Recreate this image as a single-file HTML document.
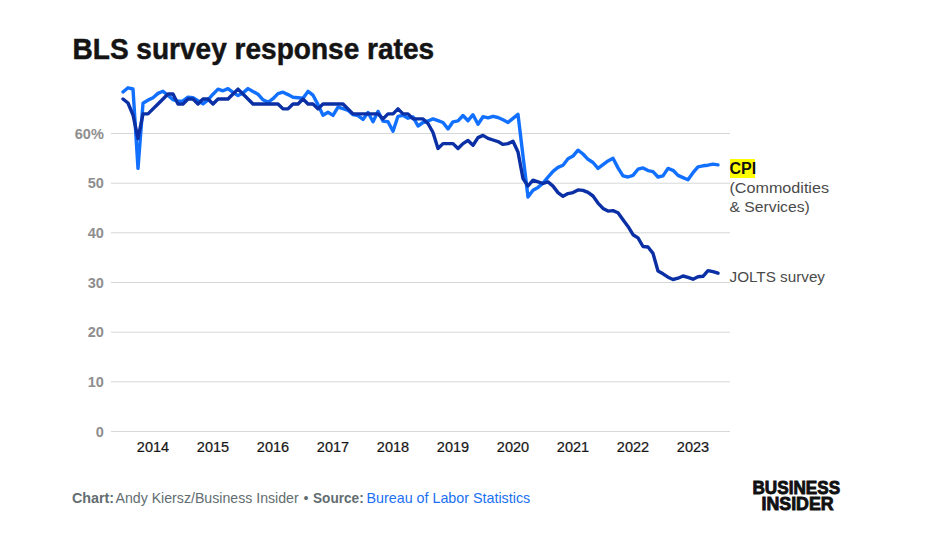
<!DOCTYPE html>
<html><head><meta charset="utf-8"><title>BLS survey response rates</title>
<style>
html,body{margin:0;padding:0;background:#fff;}
body{width:942px;height:559px;overflow:hidden;position:relative;font-family:"Liberation Sans",Arial,sans-serif;}
svg{position:absolute;left:0;top:0;font-family:"Liberation Sans",Arial,sans-serif;}
</style></head><body>
<svg width="942" height="559" viewBox="0 0 942 559">
<text x="72.5" y="58.7" font-size="29.8" font-weight="700" fill="#141414" textLength="361.6" lengthAdjust="spacingAndGlyphs" stroke="#141414" stroke-width="0.5">BLS survey response rates</text>
<g stroke="#d5d8d8" stroke-width="1">
<line x1="111" x2="730" y1="133.5" y2="133.5"/>
<line x1="111" x2="730" y1="183.2" y2="183.2"/>
<line x1="111" x2="730" y1="232.8" y2="232.8"/>
<line x1="111" x2="730" y1="282.5" y2="282.5"/>
<line x1="111" x2="730" y1="332.2" y2="332.2"/>
<line x1="111" x2="730" y1="381.8" y2="381.8"/>
<line x1="111" x2="730" y1="431.5" y2="431.5"/>
</g>
<text x="103.8" y="138.7" font-size="14.5" font-weight="700" fill="#8e8e8e" text-anchor="end">60%</text>
<text x="103.8" y="188.4" font-size="14.5" font-weight="700" fill="#8e8e8e" text-anchor="end">50</text>
<text x="103.8" y="238.0" font-size="14.5" font-weight="700" fill="#8e8e8e" text-anchor="end">40</text>
<text x="103.8" y="287.7" font-size="14.5" font-weight="700" fill="#8e8e8e" text-anchor="end">30</text>
<text x="103.8" y="337.4" font-size="14.5" font-weight="700" fill="#8e8e8e" text-anchor="end">20</text>
<text x="103.8" y="387.0" font-size="14.5" font-weight="700" fill="#8e8e8e" text-anchor="end">10</text>
<text x="103.8" y="436.7" font-size="14.5" font-weight="700" fill="#8e8e8e" text-anchor="end">0</text>
<text x="153" y="452" font-size="14.5" font-weight="400" fill="#161616" text-anchor="middle" stroke="#161616" stroke-width="0.22">2014</text>
<text x="213" y="452" font-size="14.5" font-weight="400" fill="#161616" text-anchor="middle" stroke="#161616" stroke-width="0.22">2015</text>
<text x="273" y="452" font-size="14.5" font-weight="400" fill="#161616" text-anchor="middle" stroke="#161616" stroke-width="0.22">2016</text>
<text x="333" y="452" font-size="14.5" font-weight="400" fill="#161616" text-anchor="middle" stroke="#161616" stroke-width="0.22">2017</text>
<text x="393" y="452" font-size="14.5" font-weight="400" fill="#161616" text-anchor="middle" stroke="#161616" stroke-width="0.22">2018</text>
<text x="453" y="452" font-size="14.5" font-weight="400" fill="#161616" text-anchor="middle" stroke="#161616" stroke-width="0.22">2019</text>
<text x="513" y="452" font-size="14.5" font-weight="400" fill="#161616" text-anchor="middle" stroke="#161616" stroke-width="0.22">2020</text>
<text x="573" y="452" font-size="14.5" font-weight="400" fill="#161616" text-anchor="middle" stroke="#161616" stroke-width="0.22">2021</text>
<text x="633" y="452" font-size="14.5" font-weight="400" fill="#161616" text-anchor="middle" stroke="#161616" stroke-width="0.22">2022</text>
<text x="693" y="452" font-size="14.5" font-weight="400" fill="#161616" text-anchor="middle" stroke="#161616" stroke-width="0.22">2023</text>
<polyline fill="none" stroke="#1170ff" stroke-width="3.4" stroke-linejoin="round" stroke-linecap="round" points="123,92 128,87.8 133,89 138,168.3 143,103.3 148,100.1 153,97.7 158,93.4 163,91.2 168,95.5 173,99.6 178,101.2 183,100.9 188,97.2 193,97.8 198,100.7 203,103.9 208,99.9 213,94.2 218,89.1 223,90.8 228,88.6 233,92.4 238,95.6 243,92.9 248,88.6 253,91.5 258,94.2 263,99.8 268,102.3 273,98.7 278,93.6 283,92.2 288,94.6 293,97.2 298,97.8 303,98.3 308,91.4 313,95.2 318,104.6 323,115.3 328,112.3 333,115.4 338,107.1 343,108.7 348,110.3 353,114.6 358,115.7 363,119.4 368,112.5 373,121.7 378,111.4 383,121.1 388,121.7 393,131.3 398,116.3 403,115.3 408,118.2 413,116.9 418,126 423,122.5 428,121 433,118.9 438,120.6 443,122.5 448,128.9 453,121.8 458,120.9 463,115.5 468,120.7 473,114.7 478,124.3 483,116.7 488,117.9 493,116.3 498,117.5 503,119.8 508,122.4 513,118.4 518,114.4 523,156 528,197 533,190.2 538,187.4 543,183.2 548,177.1 553,171.4 558,167.4 563,165.2 568,158.8 573,156.1 578,150.2 583,154 588,159.3 593,162.5 598,168.4 603,164.7 608,160.9 613,158.2 618,167.9 623,175.9 628,177 633,175.4 638,169.2 643,167.9 648,170.6 653,171.7 658,177 663,175.9 668,168.4 673,170.3 678,175.4 683,177.6 688,179.7 693,172.7 698,166.8 703,165.8 708,165.2 713,164.1 718,164.9"/>
<polyline fill="none" stroke="#0b2fa5" stroke-width="3.4" stroke-linejoin="round" stroke-linecap="round" points="123,99 128,103 133,115 138,138.7 143,113.9 148,113.9 153,108.9 158,104 163,99 168,94 173,94 178,104 183,104 188,99 193,99 198,104 203,99 208,99 213,104 218,99 223,99 228,99 233,94 238,89.1 243,94 248,99 253,104 258,104 263,104 268,104 273,104 278,104 283,108.9 288,108.9 293,104 298,104 303,99 308,104 313,104 318,108.9 323,104 328,104 333,104 338,104 343,104 348,108.9 353,113.9 358,113.9 363,113.9 368,113.9 373,113.9 378,113.9 383,118.9 388,113.9 393,113.9 398,108.9 403,113.9 408,113.9 413,118.9 418,118.9 423,118.9 428,123.5 433,132.5 438,148.5 443,143.6 448,143.6 453,143.6 458,148.5 463,143.6 468,140.4 473,145.2 478,137.6 483,135.4 488,138.4 493,140 498,141.6 503,144.4 508,143.6 513,141.2 518,152 523,178.6 528,186 533,180.2 538,181.8 543,183.5 548,181.9 553,186.1 558,192.6 563,196.3 568,193.6 573,192.6 578,189.9 583,190.4 588,192.4 593,196 598,203.1 603,208.4 608,211.1 613,210.6 618,212.7 623,219.7 628,226.4 633,234.7 638,237.9 643,246.5 648,247 653,253.4 658,271 663,273.8 668,277.2 673,279.5 678,278.2 683,276 688,277.3 693,279.2 698,276.7 703,276.3 708,270.6 713,271.6 718,273.2"/>
<rect x="730" y="159" width="25" height="19" fill="#ffff00"/>
<text x="729.5" y="173.5" font-size="16" font-weight="700" fill="#111">CPI</text>
<text x="729.5" y="192.6" font-size="15.5" font-weight="400" fill="#4a4a4a" textLength="99.5" lengthAdjust="spacingAndGlyphs">(Commodities</text>
<text x="729.5" y="211.5" font-size="15.5" font-weight="400" fill="#4a4a4a" textLength="80.3" lengthAdjust="spacingAndGlyphs">&amp; Services)</text>
<text x="729.5" y="281.7" font-size="15.5" font-weight="400" fill="#4a4a4a" textLength="95.5" lengthAdjust="spacingAndGlyphs">JOLTS survey</text>
<text x="72" y="502.7" font-size="14.3" font-weight="700" fill="#636d71">Chart:</text>
<text x="115.5" y="502.7" font-size="14.3" font-weight="400" fill="#636d71" textLength="183.2" lengthAdjust="spacingAndGlyphs">Andy Kiersz/Business Insider</text>
<text x="303.5" y="502.7" font-size="14.3" font-weight="400" fill="#636d71">•</text>
<text x="313" y="502.7" font-size="14.3" font-weight="700" fill="#636d71" textLength="50.7" lengthAdjust="spacingAndGlyphs">Source:</text>
<text x="366.5" y="502.7" font-size="14.3" font-weight="400" fill="#1a70f2">Bureau of Labor Statistics</text>
<text x="752.5" y="494.2" font-size="18.5" font-weight="700" fill="#111" textLength="87.6" lengthAdjust="spacingAndGlyphs" stroke="#111" stroke-width="0.9">BUSINESS</text>
<text x="761.5" y="510.2" font-size="18.5" font-weight="700" fill="#111" textLength="72.1" lengthAdjust="spacingAndGlyphs" stroke="#111" stroke-width="0.9">INSIDER</text>
</svg>
</body></html>
